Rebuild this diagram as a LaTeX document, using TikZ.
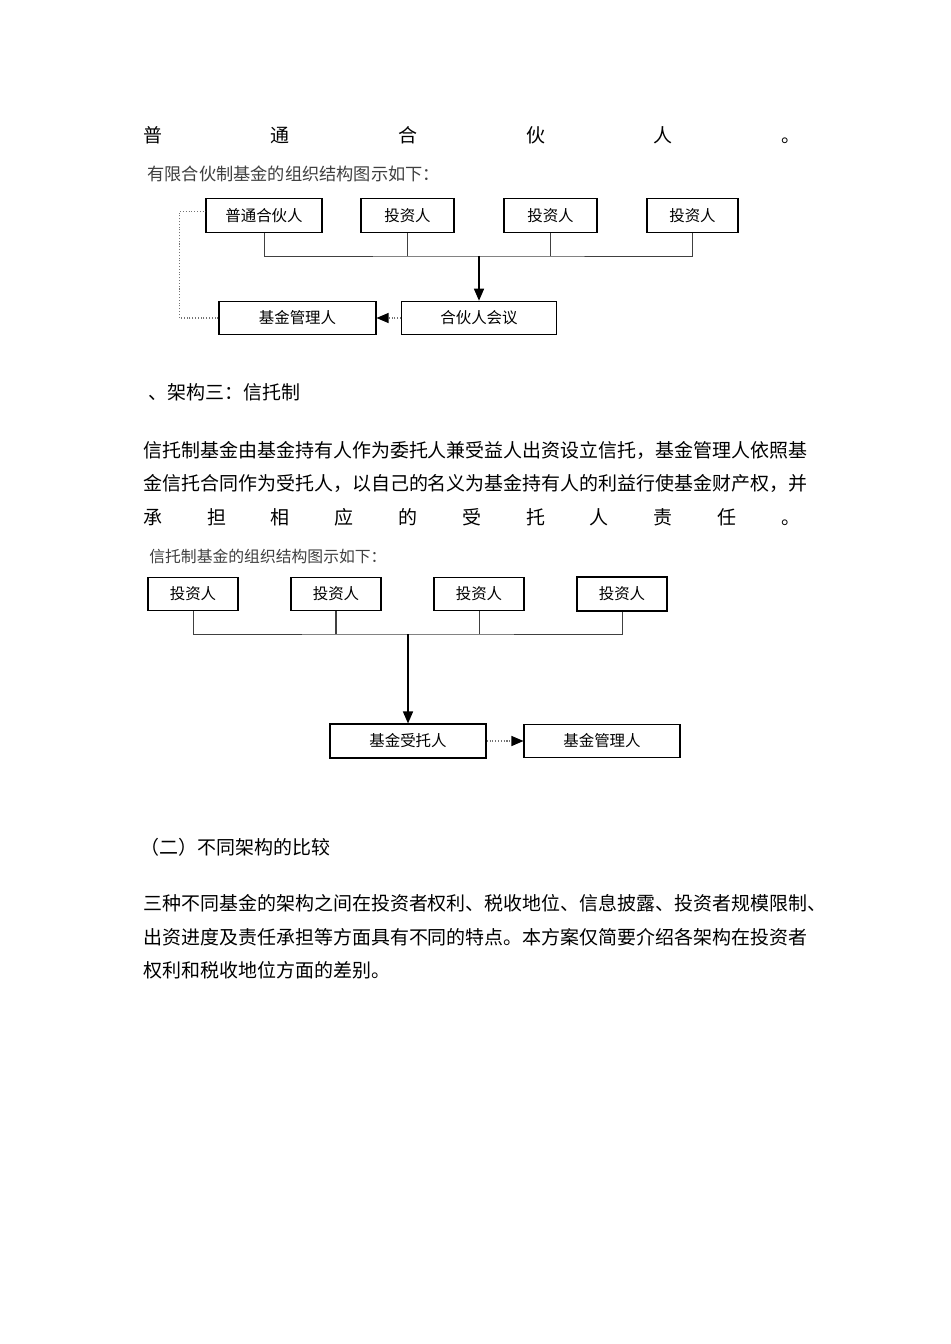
\documentclass[tikz,border=0pt]{standalone}
\usepackage{fontspec}
\setmainfont{Noto Sans CJK SC}
\usetikzlibrary{arrows.meta}
\tikzset{
	orgbox/.style={draw, line width=0.6pt, minimum height=0.67cm, inner sep=0pt, font=\fontsize{8.8}{10}\selectfont},
	bodyline/.style={anchor=west, inner sep=0pt, font=\fontsize{10.8}{13}\selectfont},
	charttitle/.style={anchor=west, inner sep=0pt, text=black!75, font=\fontsize{9}{11}\selectfont},
	busline/.style={black!75, line width=0.5pt},
	dotlink/.style={black!55, densely dotted, line width=0.6pt},
	headtip/.style={-{Triangle[length=0.24cm,width=0.2cm,black]}}
}

\begin{document}
\begin{tikzpicture}[x=0.02cm,y=-0.02cm]
		%%%%% START %%%%%
		\fill[white] (0,0) rectangle (950,1344);
		\useasboundingbox (0,0) rectangle (950,1344);
		
		\node[bodyline] (gpline) at (143,135) {\makebox[13.14cm]{普\hfill 通\hfill 合\hfill 伙\hfill 人\hfill 。}};
		\node[charttitle, font=\fontsize{9.8}{11}\selectfont] (lptitle) at (147,174) {有限合伙制基金的组织结构图示如下：};
		
		\node[orgbox, minimum width=2.32cm] (gp) at (264,215.5) {普通合伙人};
		\node[orgbox, minimum width=1.86cm] (lpA) at (407.5,215.5) {投资人};
		\node[orgbox, minimum width=1.86cm] (lpB) at (550.5,215.5) {投资人};
		\node[orgbox, minimum width=1.82cm] (lpC) at (692.5,215.5) {投资人};
		\node[orgbox, minimum width=3.14cm] (mgr) at (297.5,318) {基金管理人};
		\node[orgbox, minimum width=3.10cm] (mtg) at (479,318) {合伙人会议};
		
		\coordinate (hub) at (479,256);
		\draw[busline] (gp.south) |- (hub) -| (lpC.south);
		\draw[busline] (lpA.south) -- (lpA.south |- hub);
		\draw[busline] (lpB.south) -- (lpB.south |- hub);
		\draw[line width=0.8pt, headtip] (hub) -- (mtg.north);
		\draw[dotlink, headtip] (mtg.west) -- (mgr.east);
		\draw[dotlink] (mgr.west) -- ++(-39,0) |- ([yshift=0.08cm]gp.west);
		
		\node[bodyline] (partthree) at (148,392) {、架构三：信托制};
		\node[bodyline] (trustA) at (143,450) {信托制基金由基金持有人作为委托人兼受益人出资设立信托，基金管理人依照基};
		\node[bodyline] (trustB) at (143,483) {金信托合同作为受托人，以自己的名义为基金持有人的利益行使基金财产权，并};
		\node[bodyline] (trustC) at (143,517) {\makebox[13.14cm]{承\hfill 担\hfill 相\hfill 应\hfill 的\hfill 受\hfill 托\hfill 人\hfill 责\hfill 任\hfill 。}};
		\node[charttitle] (trusttitle) at (149,556) {信托制基金的组织结构图示如下：};
		
		\node[orgbox, minimum width=1.8cm] (invA) at (193,594) {投资人};
		\node[orgbox, minimum width=1.8cm] (invB) at (336,594) {投资人};
		\node[orgbox, minimum width=1.8cm] (invC) at (479,594) {投资人};
		\node[orgbox, minimum width=1.8cm, line width=0.9pt] (invD) at (622,594) {投资人};
		\node[orgbox, minimum width=3.12cm, line width=0.9pt] (trustee) at (408,741) {基金受托人};
		\node[orgbox, minimum width=3.12cm] (mgrB) at (602,741) {基金管理人};
		
		\coordinate (hubB) at (408,634);
		\draw[busline] (invA.south) |- (hubB) -| (invD.south);
		\draw[busline, line width=0.9pt] (invB.south) -- (invB.south |- hubB);
		\draw[busline] (invC.south) -- (invC.south |- hubB);
		\draw[line width=0.8pt, headtip] (hubB) -- (trustee.north);
		\draw[dotlink, headtip] (trustee.east) -- (mgrB.west);
		
		\node[bodyline] (compare) at (140,847) {（二）不同架构的比较};
		\node[bodyline] (compA) at (143,903) {三种不同基金的架构之间在投资者权利、税收地位、信息披露、投资者规模限制、};
		\node[bodyline] (compB) at (143,937) {出资进度及责任承担等方面具有不同的特点。本方案仅简要介绍各架构在投资者};
		\node[bodyline] (compC) at (143,970) {权利和税收地位方面的差别。};
		%%%%% END %%%%%
	\end{tikzpicture}
\end{document}
